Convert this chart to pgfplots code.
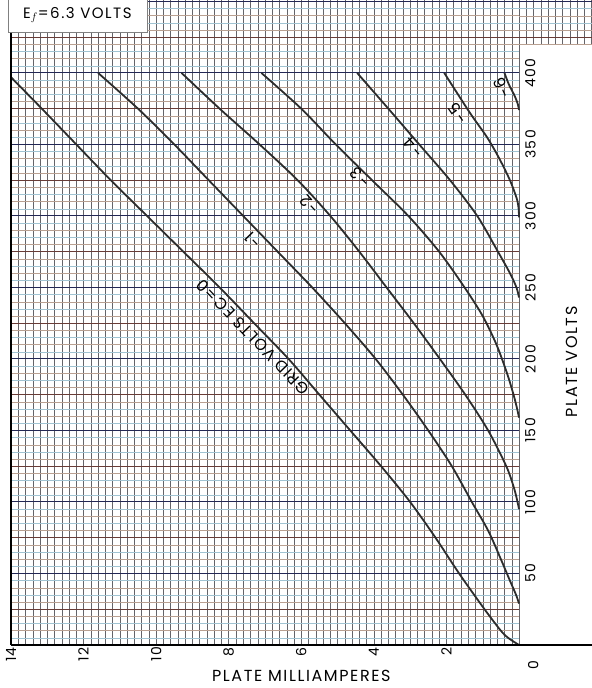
\documentclass[border=0pt]{standalone}
\usepackage{fontspec}
\setmainfont{Poppins}[LetterSpace=10]
\usepackage{pgfplots}
\pgfplotsset{compat=1.18}

\definecolor{curve}{RGB}{45,45,45}
\definecolor{vgrid}{RGB}{100,100,105}
\definecolor{hminor}{RGB}{160,195,210}
\definecolor{hten}{RGB}{185,160,145}
\definecolor{hquarter}{RGB}{105,60,55}
\definecolor{hmajor}{RGB}{35,40,85}

\pgfplotsset{
  paper/.style={
    scale only axis,
    x dir=reverse,
    axis line style={draw=none},
    major tick length=0pt, minor tick length=0pt,
    grid=both,
    major x grid style={vgrid, line width=0.55bp},
    minor x grid style={vgrid, line width=0.4bp},
    major y grid style={hmajor, line width=1bp},
    minor y grid style={hminor, line width=0.5bp},
    /pgf/number format/assume math mode=true,
  },
  curvestyle/.style={curve, line width=1.8bp, smooth, tension=0.5},
}

\begin{document}
\begin{tikzpicture}[x=1bp,y=1bp]
\begin{axis}[
  paper,
  at={(11bp,43bp)}, anchor=south west,
  width=508bp, height=645bp,
  xmin=0, xmax=14,
  ymin=0, ymax=451,
  clip=false,
  xtick={0,2,...,14}, minor x tick num=9,
  xticklabels={,2,4,6,8,10,12,14},
  ytick={0,50,...,450}, minor y tick num=9,
  yticklabels={,50,100,150,200,250,300,350,400,},
  yticklabel pos=right,
  xticklabel style={rotate=90, anchor=east, font=\fontsize{14bp}{14bp}\selectfont, inner sep=2bp},
  yticklabel style={rotate=90, anchor=north, font=\fontsize{14bp}{14bp}\selectfont, inner sep=6bp},
  extra y ticks={10,20,30,40,60,70,80,90,110,120,130,140,160,170,180,190,210,220,230,240,260,270,280,290,310,320,330,340,360,370,380,390,410,420,430,440},
  extra y tick labels={},
  extra y tick style={grid=major, major grid style={hten, line width=0.5bp}, major y grid style={hten, line width=0.5bp}},
]
% darker lines every 25 volts between the 50-volt lines
\pgfplotsinvokeforeach{25,75,125,175,225,275,325,375,425}{
  \draw[hquarter, line width=0.7bp] (axis cs:14,#1) -- (axis cs:0,#1);
}
% Ec = 0
\addplot[curvestyle] coordinates {
 (0,0) (0.3,5) (0.5,10) (0.95,25) (1.65,50) (2.3,75) (3.0,100) (3.8,125)
 (4.65,150) (5.5,175) (6.35,200) (7.3,225) (8.25,250) (9.25,275) (10.25,300)
 (11.25,325) (12.2,350) (13.15,375) (14.0,397)};
% Ec = -1
\addplot[curvestyle] coordinates {
 (0,29) (0.08,35) (0.25,45) (0.5,60) (0.85,80) (1.3,100) (1.85,125) (2.5,150)
 (3.2,175) (3.95,200) (4.8,225) (5.7,250) (6.65,275) (7.6,300) (8.55,325)
 (9.5,350) (10.5,375) (11.6,400)};
% Ec = -2
\addplot[curvestyle] coordinates {
 (0,95) (0.04,100) (0.14,110) (0.35,125) (0.85,150) (1.48,175) (2.18,200)
 (2.9,225) (3.65,250) (4.4,275) (5.2,300) (6.1,325) (7.15,350) (8.25,375) (9.3,400)};
% Ec = -3
\addplot[curvestyle] coordinates {
 (0,159) (0.05,165) (0.15,175) (0.33,190) (0.62,210) (1.0,230) (1.5,250)
 (2.2,275) (3.05,300) (4.05,325) (5.05,350) (6.0,375) (7.1,400)};
% Ec = -4
\addplot[curvestyle] coordinates {
 (0,243) (0.07,250) (0.25,260) (0.58,275) (1.15,300) (1.9,325) (2.75,350)
 (3.6,375) (4.46,400)};
% Ec = -5
\addplot[curvestyle] coordinates {
 (0,299) (0.01,305) (0.06,312) (0.25,325) (0.54,340) (0.88,355) (1.35,372) (2.06,400)};
% Ec = -6
\addplot[curvestyle] coordinates {
 (0,374) (0.03,378) (0.12,384) (0.28,392) (0.4,400)};

% borders
\draw[black, line width=1.2bp] (axis cs:14,0) -- (axis cs:14,451);
\draw[black, line width=1.2bp] (axis cs:14,0) -- (axis cs:-2.03,0);

% curve labels
\begin{scope}[font=\fontsize{16bp}{16bp}\selectfont]
\node[rotate=134, inner sep=0pt] at (axis cs:7.33,215) {GRID\hspace{5bp}VOLTS\hspace{5bp}EC=0};
\node[rotate=134, inner sep=0pt] at (axis cs:7.33,283) {-1};
\node[rotate=133, inner sep=0pt] at (axis cs:5.76,308) {-2};
\node[rotate=135, inner sep=0pt] at (axis cs:4.38,327) {-3};
\node[rotate=131, inner sep=0pt] at (axis cs:2.92,348) {-4};
\node[rotate=125, inner sep=0pt] at (axis cs:1.68,372) {-5};
\node[rotate=114, inner sep=0pt] at (axis cs:0.47,389.5) {-6};
\end{scope}
\node[rotate=90, font=\fontsize{14bp}{14bp}\selectfont] at (axis cs:-0.39,-14) {0};

% axis titles
\node[font=\fontsize{16bp}{16bp}\selectfont] at (axis cs:6.0,-21.5) {PLATE MILLIAMPERES};
\node[rotate=90, font=\fontsize{16bp}{16bp}\selectfont] at (axis cs:-1.46,198) {PLATE VOLTS};

% filament box
\fill[white] (axis cs:14.08,451) rectangle (axis cs:10.25,428);
\draw[gray, line width=0.8bp] (axis cs:14.08,451) -- (axis cs:14.08,428) -- (axis cs:10.25,428) -- (axis cs:10.25,451);
\node[font=\fontsize{15bp}{15bp}\selectfont] at (axis cs:12.17,440.5) {E$_{f}$=6.3 VOLTS};
\end{axis}

% strip of graph paper above the volts scale
\begin{axis}[
  paper,
  at={(519bp,643bp)}, anchor=south west,
  width=73bp, height=45bp,
  xmin=-2.01, xmax=0,
  ymin=419.6, ymax=451,
  clip=true,
  xtick={-2,0}, minor x tick num=9, xticklabels={},
  ytick={400,450}, minor y tick num=9, yticklabels={},
  extra y ticks={420,430,440},
  extra y tick labels={},
  extra y tick style={grid=major, major grid style={hten, line width=0.5bp}, major y grid style={hten, line width=0.5bp}},
]
\draw[hquarter, line width=0.7bp] (axis cs:0,425) -- (axis cs:-2.01,425);
\addplot[draw=none] coordinates {(-1,430)};
\end{axis}

\pgfresetboundingbox
\useasboundingbox (0,0) rectangle (592bp,688bp);
\end{tikzpicture}
\end{document}
